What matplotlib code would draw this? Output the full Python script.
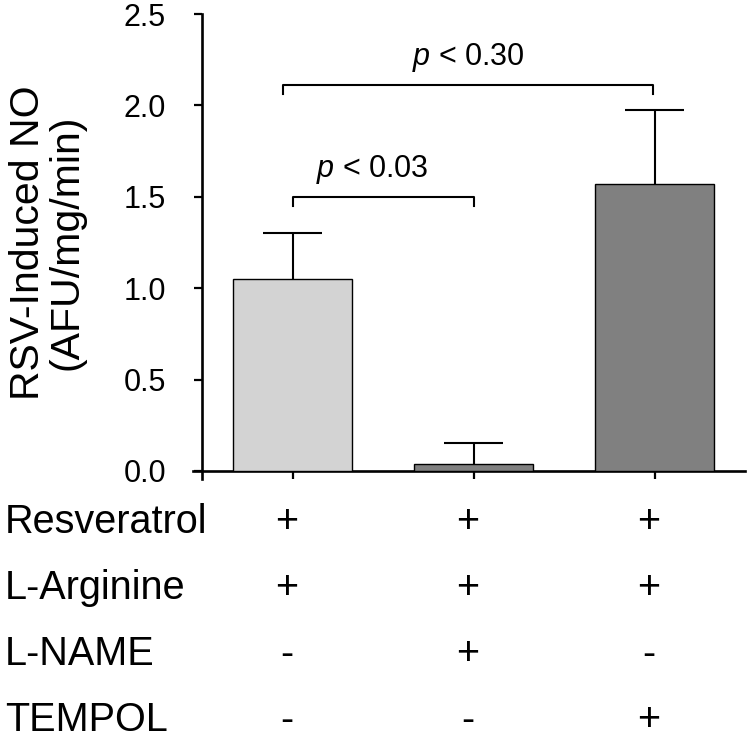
import matplotlib
matplotlib.use("Agg")
import matplotlib.pyplot as plt
import matplotlib.transforms as mtransforms
import numpy as np

plt.rcParams['font.family'] = ['Liberation Sans', 'DejaVu Sans']
plt.rcParams['mathtext.fontset'] = 'custom'
plt.rcParams['mathtext.rm'] = 'Liberation Sans'
plt.rcParams['mathtext.it'] = 'Liberation Sans:italic'

# Daten
groups = ["G1", "G2", "G3"]
means = [1.05, 0.04, 1.57]
sems = [0.25, 0.115, 0.405]
bar_colors = ["#d3d3d3", "#808080", "#808080"]

row_names = ["Resveratrol", "L-Arginine", "L-NAME", "TEMPOL"]
row_signs = [
    ["+", "+", "+"],
    ["+", "+", "+"],
    ["-", "+", "-"],
    ["-", "-", "+"],
]

# Signifikanz-Klammern: (von, bis, Höhe, Text)
brackets = [
    (0, 1, 1.50, "$p$ < 0.03"),
    (-0.05, 1.99, 2.11, "$p$ < 0.30"),
]

W, H = 748, 739
fig = plt.figure(figsize=(W / 100, H / 100), dpi=100)
ax = fig.add_axes([202 / W, (H - 471) / H, 543 / W, 457 / H])

x = np.arange(len(groups))
ax.bar(x, means, width=0.66, color=bar_colors, edgecolor="black", linewidth=1.0, zorder=3)

# nur obere Fehlerbalken
tops = np.array(means) + np.array(sems)
ax.vlines(x, means, tops, color="black", linewidth=1.5, zorder=2)
ax.hlines(tops, x - 0.165, x + 0.165, color="black", linewidth=1.5, zorder=2)

for x0, x1, yb, label in brackets:
    ax.plot([x0, x0, x1, x1], [yb - 0.05, yb, yb, yb - 0.05], color="black", linewidth=1.5,
            clip_on=False)
    xt = (x0 + x1) / 2 - 0.06 if x1 - x0 < 1.5 else (x0 + x1) / 2
    ax.text(xt, yb + 0.06, label, ha="center", va="bottom", fontsize=22)

ax.set_xlim(-0.5, 2.5)
ax.set_ylim(0, 2.5)
yt = np.arange(0, 2.51, 0.5)
ax.set_yticks(yt)
ax.set_yticklabels([f"{v:.1f}" for v in yt], fontsize=22)
ax.set_xticks(x)
ax.set_xticklabels([])
ax.tick_params(direction="out", length=6, width=1.6)
ax.tick_params(axis="y", pad=20)

for s in ["top", "right"]:
    ax.spines[s].set_visible(False)
for s in ["left", "bottom"]:
    ax.spines[s].set_linewidth(1.9)
ax.spines["bottom"].set_bounds(-0.55, 2.5)
ax.spines["left"].set_bounds(-0.045, 2.5)

ax.set_ylabel("RSV-Induced NO\n(AFU/mg/min)", fontsize=29.5, linespacing=1.0, va="center")
ax.yaxis.set_label_coords((47 - 202) / 543, 0.5)

# Tabelle unter der Achse
trans = mtransforms.blended_transform_factory(ax.transData, ax.transAxes)
trans_lbl = mtransforms.blended_transform_factory(fig.transFigure, ax.transAxes)
for i, (name, signs) in enumerate(zip(row_names, row_signs)):
    ya = -0.112 - 0.1445 * i
    ax.text(5 / W, ya, name, transform=trans_lbl, fontsize=28.5, ha="left", va="center")
    for j, s in enumerate(signs):
        ax.text(x[j] - 0.03, ya, s, transform=trans, fontsize=28.5, ha="center", va="center")

fig.savefig("out.png", dpi=100)
